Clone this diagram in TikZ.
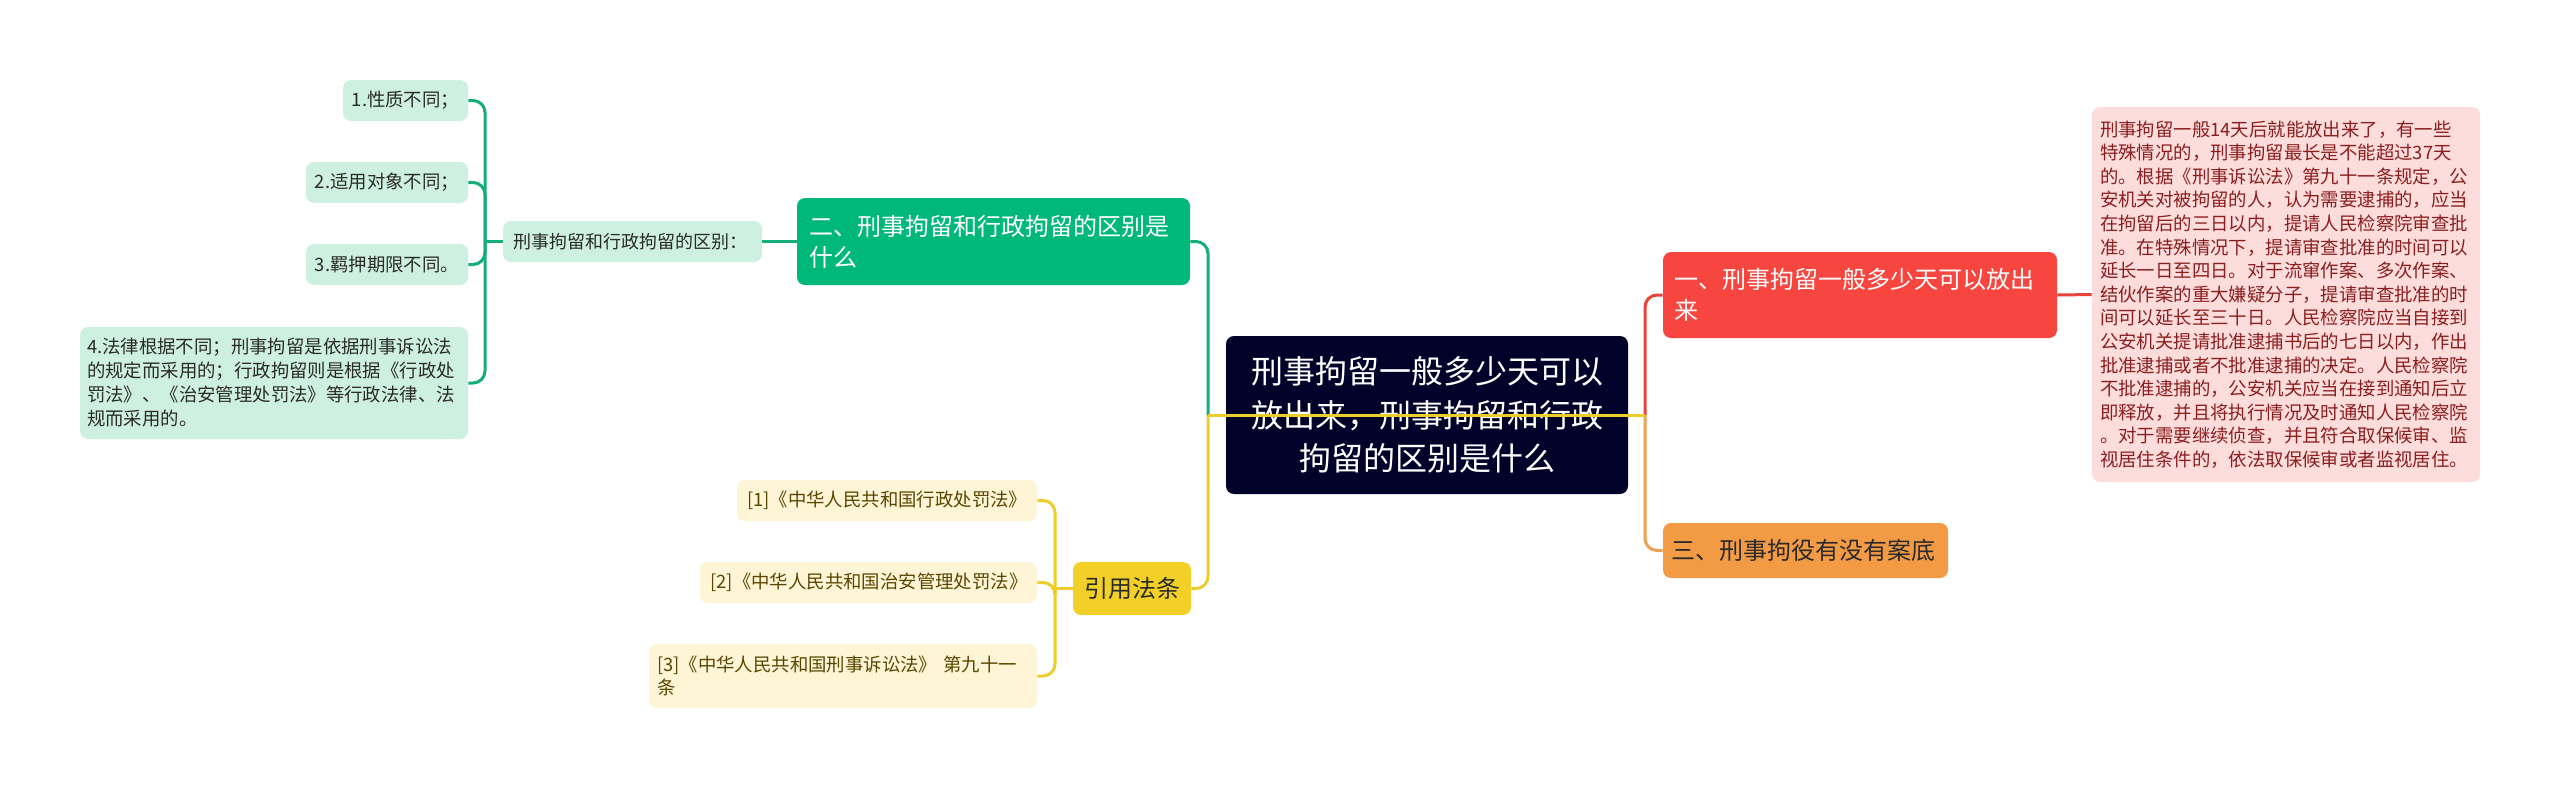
\documentclass[tikz,border=0pt]{standalone}
\usepackage{fontspec}
\setmainfont{Noto Sans CJK SC}
\definecolor{rootc}{HTML}{000229}
\definecolor{greenN}{HTML}{00B87A}
\definecolor{greenL}{HTML}{14AE78}
\definecolor{paleG}{HTML}{CDF0E1}
\definecolor{redN}{HTML}{F7463F}
\definecolor{redL}{HTML}{E8443C}
\definecolor{pinkD}{HTML}{FDDCDC}
\definecolor{pinkT}{HTML}{8B1E1E}
\definecolor{orangeN}{HTML}{F39A45}
\definecolor{orangeL}{HTML}{EFA050}
\definecolor{yellowN}{HTML}{F3D027}
\definecolor{yellowL}{HTML}{EDCC2B}
\definecolor{paleY}{HTML}{FDF5D6}
\definecolor{yText}{HTML}{5A4600}
\definecolor{dText}{HTML}{2B2B2B}
\begin{document}
\begin{tikzpicture}[x=0.5pt,y=-0.5pt,
  box/.style={rounded corners=4pt, inner sep=0pt, align=left},
  conn/.style={line width=1.5pt, rounded corners=6pt},
  big/.style={font=\fontsize{12pt}{15.5pt}\selectfont},
  small/.style={font=\fontsize{9.2pt}{12pt}\selectfont}]
\useasboundingbox[fill=white] (0,0) rectangle (2560,789);

% junctions
\coordinate (jl) at (1208,415.5);
\coordinate (jr) at (1645,415.5);
\coordinate (gt) at (485,241.5);
\coordinate (yt) at (1055,588.5);

% level-1 nodes
\node[box, big, fill=greenN, text=white, minimum width=196.5pt, minimum height=43.5pt, text width=184pt] (n2) at (993.5,241.5) {二、刑事拘留和行政拘留的区别是\\什么};
\node[box, big, fill=redN, text=white, minimum width=197pt, minimum height=43pt, text width=186pt] (n1) at (1860,295) {一、刑事拘留一般多少天可以放出\\来};
\node[box, big, fill=orangeN, text=dText, minimum width=142.5pt, minimum height=27.5pt, text width=134pt] (n3) at (1805.5,550.5) {三、刑事拘役有没有案底};
\node[box, big, fill=yellowN, text=dText, minimum width=59pt, minimum height=26.5pt, text width=49pt, align=center] (ref) at (1132,588.5) {引用法条};

% level-2 green
\node[box, fill=paleG, text=dText, minimum width=129.5pt, minimum height=20.5pt, text width=119pt, font=\fontsize{9pt}{12pt}\selectfont] (q) at (632.5,241.5) {刑事拘留和行政拘留的区别：};
\node[box, small, fill=paleG, text=dText, minimum width=62.5pt, minimum height=20.5pt, text width=55pt, align=center] (a1) at (405.5,100.5) {1.性质不同；};
\node[box, small, fill=paleG, text=dText, minimum width=81pt, minimum height=20.5pt, text width=74pt, align=center] (a2) at (387,182.5) {2.适用对象不同；};
\node[box, small, fill=paleG, text=dText, minimum width=81pt, minimum height=20.5pt, text width=74pt, align=center] (a3) at (387,264.5) {3.羁押期限不同。};
\node[box, small, fill=paleG, text=dText, minimum width=194pt, minimum height=56pt, text width=187pt] (a4) at (274,383) {4.法律根据不同；刑事拘留是依据刑事诉讼法\\的规定而采用的；行政拘留则是根据《行政处\\罚法》、《治安管理处罚法》等行政法律、法\\规而采用的。};

% level-2 yellow
\node[box, small, fill=paleY, text=yText, minimum width=150pt, minimum height=20.5pt, text width=140pt, align=center] (y1) at (887,500.5) {[1]《中华人民共和国行政处罚法》};
\node[box, small, fill=paleY, text=yText, minimum width=168.5pt, minimum height=20.5pt, text width=158pt, align=center] (y2) at (868.5,582.5) {[2]《中华人民共和国治安管理处罚法》};
\node[box, small, fill=paleY, text=yText, minimum width=194pt, minimum height=32pt, text width=186pt, font=\fontsize{9.2pt}{11.5pt}\selectfont] (y3) at (843,676) {[3]《中华人民共和国刑事诉讼法》 第九十一\\条};

% detail
\node[box, fill=pinkD, text=pinkT, minimum width=194pt, minimum height=187.5pt, text width=186pt, font=\fontsize{9.2pt}{11.8pt}\selectfont] (det) at (2286,294.5) {刑事拘留一般14天后就能放出来了，有一些\\特殊情况的，刑事拘留最长是不能超过37天\\的。根据《刑事诉讼法》第九十一条规定，公\\安机关对被拘留的人，认为需要逮捕的，应当\\在拘留后的三日以内，提请人民检察院审查批\\准。在特殊情况下，提请审查批准的时间可以\\延长一日至四日。对于流窜作案、多次作案、\\结伙作案的重大嫌疑分子，提请审查批准的时\\间可以延长至三十日。人民检察院应当自接到\\公安机关提请批准逮捕书后的七日以内，作出\\批准逮捕或者不批准逮捕的决定。人民检察院\\不批准逮捕的，公安机关应当在接到通知后立\\即释放，并且将执行情况及时通知人民检察院\\。对于需要继续侦查，并且符合取保候审、监\\视居住条件的，依法取保候审或者监视居住。};

% connectors behind root
\draw[conn, greenL] (n2.east) -| (jl);
\draw[conn, redL] (n1.west) -| (jr);
\draw[conn, orangeL] (n3.west) -| (jr);
\draw[conn, redL] (n1.east) -- (det.west);
\draw[conn, greenL] (n2.west) -- (q.east);
\draw[conn, greenL] (q.west) -- (gt);
\draw[conn, greenL] (a1.east) -| (gt);
\draw[conn, greenL] (a2.east) -| (gt);
\draw[conn, greenL] (a3.east) -| (gt);
\draw[conn, greenL] (a4.east) -| (gt);
\draw[conn, yellowL] (ref.west) -- (yt);
\draw[conn, yellowL] (y1.east) -| (yt);
\draw[conn, yellowL] (y2.east) -| (yt);
\draw[conn, yellowL] (y3.east) -| (yt);
\draw[conn, yellowL] (ref.east) -| (jl);

% root
\node[box, fill=rootc, text=white, minimum width=201pt, minimum height=79pt, text width=180pt, align=center, font=\fontsize{16pt}{21.75pt}\selectfont] (root) at (1427,415) {刑事拘留一般多少天可以\\放出来，刑事拘留和行政\\拘留的区别是什么};

% yellow line drawn over root
\draw[line width=1.5pt, yellowL] (jl) -- (jr);
\end{tikzpicture}
\end{document}
